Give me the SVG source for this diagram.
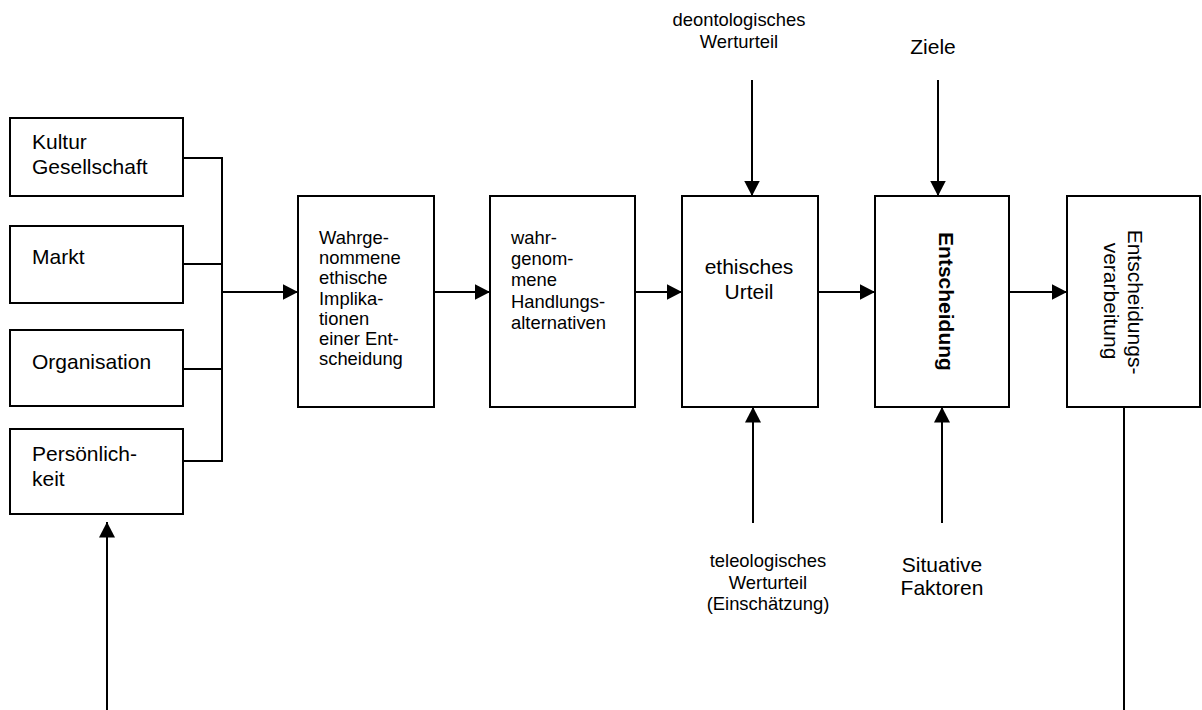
<svg xmlns="http://www.w3.org/2000/svg" width="1202" height="710" viewBox="0 0 1202 710">
  <style>
    .box { fill: #fff; stroke: #000; stroke-width: 2; }
    .wire { fill: none; stroke: #000; stroke-width: 2; }
    .t { font-family: "Liberation Sans", Arial, sans-serif; fill: #000; }
    .big { font-size: 21px; }
    .small { font-size: 18.4px; }
    .mid { text-anchor: middle; }
    .bold { font-weight: bold; }
  </style>
  <defs>
    <marker id="arrow" markerUnits="userSpaceOnUse" markerWidth="17" markerHeight="17" refX="15.5" refY="8" orient="auto">
      <path d="M0,0 L15.5,8 L0,16 z" fill="#000"/>
    </marker>
  </defs>
  <rect width="1202" height="710" fill="#fff"/>

  <!-- influence factors -->
  <g id="kultur">
    <rect class="box" x="10" y="118" width="173" height="78"/>
    <text class="t big" x="32" y="149">Kultur</text>
    <text class="t big" x="32" y="174">Gesellschaft</text>
  </g>
  <g id="markt">
    <rect class="box" x="10" y="226" width="173" height="77"/>
    <text class="t big" x="32" y="264">Markt</text>
  </g>
  <g id="organisation">
    <rect class="box" x="10" y="330" width="173" height="76"/>
    <text class="t big" x="32" y="369">Organisation</text>
  </g>
  <g id="persoenlichkeit">
    <rect class="box" x="10" y="429" width="173" height="85"/>
    <text class="t big" x="32" y="461">Persönlich-</text>
    <text class="t big" x="32" y="486">keit</text>
  </g>

  <!-- process chain -->
  <g id="implikationen">
    <rect class="box" x="298" y="196" width="136" height="211"/>
    <text class="t small" x="319" y="244">Wahrge-</text>
    <text class="t small" x="319" y="264">nommene</text>
    <text class="t small" x="319" y="284">ethische</text>
    <text class="t small" x="319" y="305">Implika-</text>
    <text class="t small" x="319" y="325">tionen</text>
    <text class="t small" x="319" y="345">einer Ent-</text>
    <text class="t small" x="319" y="365">scheidung</text>
  </g>
  <g id="alternativen">
    <rect class="box" x="490" y="196" width="145" height="211"/>
    <text class="t small" x="511" y="244">wahr-</text>
    <text class="t small" x="511" y="265">genom-</text>
    <text class="t small" x="511" y="286">mene</text>
    <text class="t small" x="511" y="308">Handlungs-</text>
    <text class="t small" x="511" y="329">alternativen</text>
  </g>
  <g id="urteil">
    <rect class="box" x="682" y="196" width="136" height="211"/>
    <text class="t big mid" x="749" y="274">ethisches</text>
    <text class="t big mid" x="749" y="299">Urteil</text>
  </g>
  <g id="entscheidung">
    <rect class="box" x="875" y="196" width="134" height="211"/>
    <text class="t big bold mid" transform="translate(939,301.5) rotate(90)">Entscheidung</text>
  </g>
  <g id="verarbeitung">
    <rect class="box" x="1067" y="196" width="133" height="211"/>
    <text class="t big mid" transform="translate(1128,302) rotate(90)">Entscheidungs-</text>
    <text class="t big mid" transform="translate(1104,301) rotate(90)">verarbeitung</text>
  </g>

  <!-- external inputs -->
  <g id="deontologisch">
    <text class="t small mid" x="739" y="26">deontologisches</text>
    <text class="t small mid" x="739" y="48">Werturteil</text>
  </g>
  <g id="ziele">
    <text class="t big mid" x="933" y="54">Ziele</text>
  </g>
  <g id="teleologisch">
    <text class="t small mid" x="768" y="567">teleologisches</text>
    <text class="t small mid" x="768" y="589">Werturteil</text>
    <text class="t small mid" x="768" y="610">(Einschätzung)</text>
  </g>
  <g id="situativ">
    <text class="t big mid" x="942" y="572">Situative</text>
    <text class="t big mid" x="942" y="595">Faktoren</text>
  </g>

  <!-- connectors -->
  <g id="connectors">
    <path class="wire" d="M183,158 H222 M183,264 H222 M183,369 H222 M183,461 H222 M222,157 V462"/>
    <line class="wire" x1="222" y1="292" x2="298" y2="292" marker-end="url(#arrow)"/>
    <line class="wire" x1="434" y1="292" x2="490" y2="292" marker-end="url(#arrow)"/>
    <line class="wire" x1="635" y1="292" x2="682" y2="292" marker-end="url(#arrow)"/>
    <line class="wire" x1="818" y1="292" x2="875" y2="292" marker-end="url(#arrow)"/>
    <line class="wire" x1="1009" y1="292" x2="1067" y2="292" marker-end="url(#arrow)"/>
    <line class="wire" x1="752" y1="80" x2="752" y2="196" marker-end="url(#arrow)"/>
    <line class="wire" x1="938" y1="80" x2="938" y2="196" marker-end="url(#arrow)"/>
    <line class="wire" x1="753" y1="523" x2="753" y2="407" marker-end="url(#arrow)"/>
    <line class="wire" x1="942" y1="523" x2="942" y2="407" marker-end="url(#arrow)"/>
    <line class="wire" x1="107" y1="710" x2="107" y2="522" marker-end="url(#arrow)"/>
    <line class="wire" x1="1124" y1="407" x2="1124" y2="710"/>
  </g>
</svg>
